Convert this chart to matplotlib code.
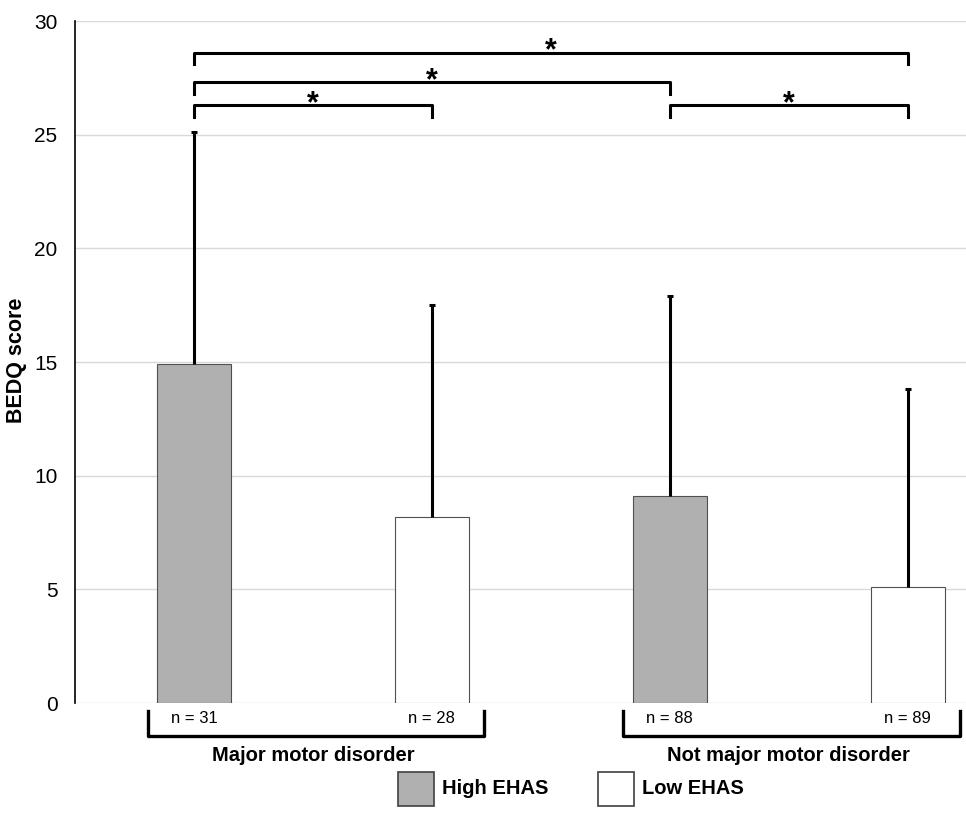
import matplotlib.pyplot as plt
from matplotlib.patches import Rectangle

plt.rcParams['font.family'] = ['Liberation Sans', 'DejaVu Sans']

groups = ['Major motor disorder', 'Not major motor disorder']
series = ['High EHAS', 'Low EHAS']
series_colors = ['#b0b0b0', 'white']
means = [14.9, 8.2, 9.1, 5.1]
sds = [10.2, 9.3, 8.8, 8.7]
ns = [31, 28, 88, 89]
colors = ['#b0b0b0', 'white', '#b0b0b0', 'white']
# significance pairs (bar index a, bar index b, height)
sig_pairs = [(0, 1, 26.3), (0, 2, 27.3), (0, 3, 28.6), (2, 3, 26.3)]

fig = plt.figure(figsize=(9.66, 8.15), dpi=100)
ax = fig.add_axes([0.0776, 0.1374, 0.9224, 0.8368])

x = list(range(len(means)))
ax.bar(x, means, width=0.31, color=colors, edgecolor='#505050', linewidth=0.8, zorder=3)
eb = ax.errorbar(x, means, yerr=[[0] * len(sds), sds], fmt='none', ecolor='black',
                 elinewidth=2.2, capsize=2.5, capthick=2.2, zorder=4)
eb[1][0].set_visible(False)  # no lower caps

ax.set_ylim(0, 30)
ax.set_xlim(-0.5, 3.245)
ax.set_yticks(range(0, 31, 5))
ax.yaxis.grid(True, color='#d9d9d9', linewidth=1)
ax.set_axisbelow(True)
ax.set_xticks([])
ax.tick_params(axis='y', length=0, labelsize=15, pad=12.5)
for s in ['top', 'right', 'bottom']:
    ax.spines[s].set_visible(False)
ax.spines['left'].set_color('black')
ax.spines['left'].set_linewidth(1.2)
fig.text(17 / 966, 1 - 360 / 815, 'BEDQ score', rotation=90, ha='center',
         va='center', fontsize=15.5, fontweight='bold')

# significance brackets
for a, b, h in sig_pairs:
    ax.plot([a, a, b, b], [h - 0.5, h, h, h - 0.5], color='black', lw=2.2,
            solid_joinstyle='round', clip_on=False)
    ax.text((a + b) / 2, h + 0.05, '*', ha='center', va='center', fontsize=22,
            fontweight='bold')

# n labels and group brackets
for i, n in enumerate(ns):
    ax.text(i, -0.7, f'n = {n}', ha='center', va='center', fontsize=12)
for g, name in enumerate(groups):
    l, r = 2 * g - 0.195, 2 * g + 1 + 0.22
    ax.plot([l, l, r, r], [-0.35, -1.45, -1.45, -0.35], color='black', lw=2.4,
            solid_joinstyle='round', clip_on=False)
    ax.text(2 * g + 0.5, -2.3, name, ha='center', va='center', fontsize=14.5,
            fontweight='bold')

# legend drawn by hand
for k, (name, c) in enumerate(zip(series, series_colors)):
    x0 = (398 + 200 * k) / 966
    fig.add_artist(Rectangle((x0, 1 - 806 / 815), 36 / 966, 34 / 815,
                             transform=fig.transFigure, facecolor=c,
                             edgecolor='#404040', lw=1.2))
    fig.text(x0 + 44 / 966, 1 - 789 / 815, name, ha='left', va='center',
             fontsize=14.5, fontweight='bold')

fig.savefig('out.png', dpi=100)
